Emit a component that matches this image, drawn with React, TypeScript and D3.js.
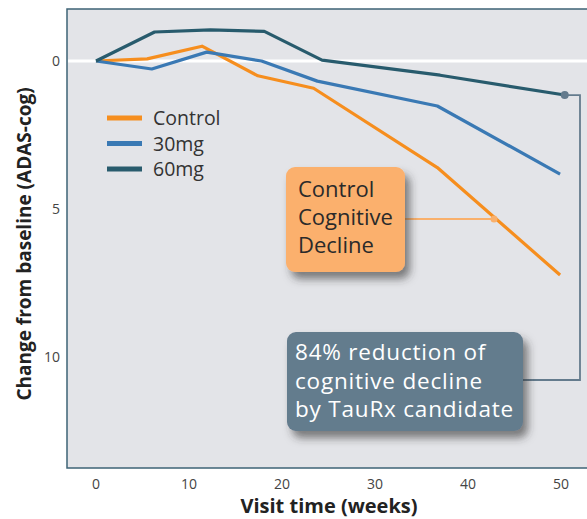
import React from 'react';
import * as d3 from 'd3';

// visit weeks per series (slight dodge in the original)
const controlWeeks = [0, 5.5, 11.4, 17.4, 23.4, 36.7, 49.9];
const controlValues = [0, -0.07, -0.5, 0.5, 0.92, 3.6, 7.23];
const mg30Weeks = [0, 6, 11.9, 17.8, 23.8, 36.7, 49.9];
const mg30Values = [0, 0.27, -0.3, 0, 0.68, 1.52, 3.82];
const mg60Weeks = [0, 6.3, 12.3, 18.1, 24.3, 37, 50.4];
const mg60Values = [0, -0.98, -1.05, -1.0, -0.03, 0.48, 1.15];

const xTicks = [0, 10, 20, 30, 40, 50];
const yTicks = [0, 5, 10];

const seriesNames = ['Control', '30mg', '60mg'];
const seriesColors = ['#F68E1E', '#3A79B4', '#285B6D'];

const controlNote = ['Control', 'Cognitive', 'Decline'];
const reductionNote = ['84% reduction of', 'cognitive decline', 'by TauRx candidate'];
const controlNotePoint = { week: 42.8, value: 5.34 };

const W = 587;
const H = 519;
const font = '"Open Sans", "Noto Sans", sans-serif';

const App = () => {
  const x = d3.scaleLinear().domain([0, 50]).range([96, 561]);
  const y = d3.scaleLinear().domain([0, 10]).range([61, 357]);
  const plot = { left: 67, top: 9, right: 600, bottom: 468 };

  const line = d3.line<[number, number]>()
    .x(d => x(d[0]))
    .y(d => y(d[1]));

  const series = [
    d3.zip(controlWeeks, controlValues) as [number, number][],
    d3.zip(mg30Weeks, mg30Values) as [number, number][],
    d3.zip(mg60Weeks, mg60Values) as [number, number][],
  ];

  const endPt = series[2][series[2].length - 1];
  const endX = x(endPt[0]);
  const endY = y(endPt[1]);
  const cx = x(controlNotePoint.week);
  const cy = y(controlNotePoint.value);

  return (
    <svg width={W} height={H} style={{ position: 'absolute', left: 0, top: 0 }} fontFamily={font}>
      <defs>
        <filter id="shadow" x="-20%" y="-20%" width="150%" height="160%">
          <feDropShadow dx="5" dy="7" stdDeviation="4" floodColor="#333" floodOpacity="0.6" />
        </filter>
      </defs>
      <rect x={0} y={0} width={W} height={H} fill="#fff" />
      <rect x={plot.left} y={plot.top} width={plot.right - plot.left} height={plot.bottom - plot.top}
        fill="#E3E4E8" stroke="#3E6376" strokeWidth={1.5} />
      <line x1={plot.left + 1} x2={W} y1={y(0)} y2={y(0)} stroke="#fff" strokeWidth={3} />

      {series.map((s, i) => (
        <path key={i} d={line(s) || ''} fill="none" stroke={seriesColors[i]} strokeWidth={3.2}
          strokeLinejoin="round" />
      ))}

      {xTicks.map(t => (
        <text key={t} x={x(t)} y={489} textAnchor="middle" fontSize={14} fill="#444">{t}</text>
      ))}
      {yTicks.map(t => (
        <text key={t} x={60} y={y(t) + 5} textAnchor="end" fontSize={14} fill="#444">{t}</text>
      ))}

      <text x={329} y={513} textAnchor="middle" fontSize={20} fontWeight="bold" fill="#222">
        Visit time (weeks)
      </text>
      <text transform={`translate(31,244) rotate(-90)`} textAnchor="middle" fontSize={19}
        fontWeight="bold" fill="#222">
        Change from baseline (ADAS-cog)
      </text>

      {seriesNames.map((n, i) => (
        <g key={n} transform={`translate(107,${118 + i * 25.5})`}>
          <line x1={0} x2={35} y1={0} y2={0} stroke={seriesColors[i]} strokeWidth={5} />
          <text x={46} y={7} fontSize={19.5} fill="#333">{n}</text>
        </g>
      ))}

      {/* control decline note */}
      <line x1={405} x2={cx} y1={cy} y2={cy} stroke="#F9B06C" strokeWidth={2} />
      <circle cx={cx} cy={cy} r={3.5} fill="#F9B06C" />
      <rect x={286} y={167} width={119} height={105} rx={9} fill="#FBB06D" filter="url(#shadow)" />
      {controlNote.map((t, i) => (
        <text key={t} x={298} y={197 + i * 28} fontSize={22} fill="#2a2a2a">{t}</text>
      ))}

      {/* reduction note */}
      <path d={`M${endX},${endY}H580V380H523`} fill="none" stroke="#647B8D" strokeWidth={1.8} />
      <circle cx={endX} cy={endY} r={4} fill="#647B8D" />
      <rect x={287} y={332} width={236} height={99} rx={9} fill="#647B8D" filter="url(#shadow)" />
      {reductionNote.map((t, i) => (
        <text key={t} x={295} y={360 + i * 28.5} fontSize={22.5} letterSpacing={0.8} fill="#fff">{t}</text>
      ))}
    </svg>
  );
};

export default App;
